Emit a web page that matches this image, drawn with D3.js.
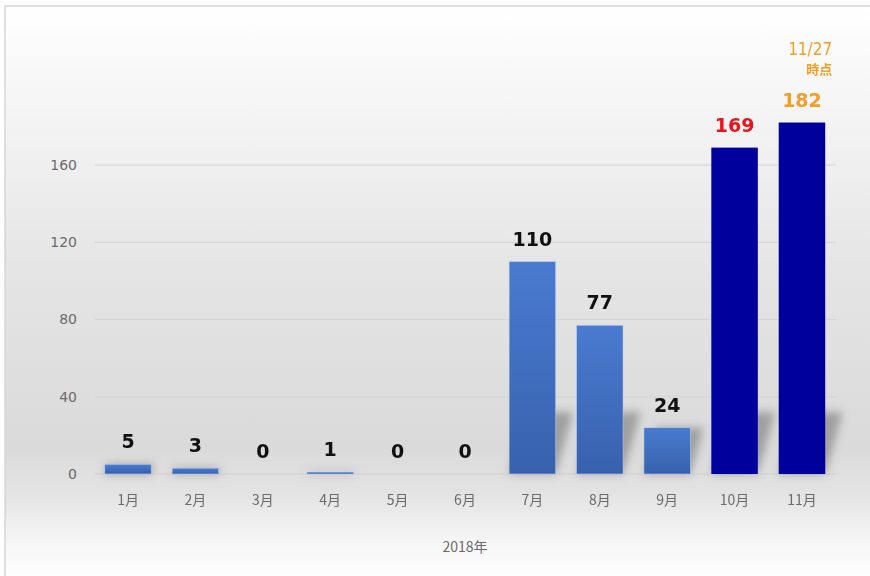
<!DOCTYPE html>
<html lang="ja">
<head>
  <meta charset="UTF-8">
  <title>2018年 月別件数</title>
  <script src="https://d3js.org/d3.v7.min.js"></script>
  <style>
    body { margin: 0; background: #fff; }
    svg { font-family: "Noto Sans CJK JP", "DejaVu Sans", sans-serif; display: block; }
  </style>
</head>
<body>
<svg id="chart" width="870" height="576"></svg>
<script>
// data
const months = ["1月", "2月", "3月", "4月", "5月", "6月", "7月", "8月", "9月", "10月", "11月"];
const counts = [5, 3, 0, 1, 0, 0, 110, 77, 24, 169, 182];
const yTicks = [0, 40, 80, 120, 160];
const highlight = ["10月", "11月"];
const labelColors = { "10月": "#e8141e", "11月": "#f0a02a" };

const svg = d3.select("#chart");
const defs = svg.append("defs");

const bg = defs.append("linearGradient").attr("id", "bg")
  .attr("x1", 0).attr("y1", 0).attr("x2", 0).attr("y2", 1);
[[0, "#ffffff"], [0.12, "#f8f8f8"], [0.45, "#e5e5e5"], [0.76, "#dadada"],
 [0.84, "#e3e3e3"], [0.93, "#f7f7f7"], [1, "#ffffff"]]
  .forEach(([o, c]) => bg.append("stop").attr("offset", o).attr("stop-color", c));

const barGrad = defs.append("linearGradient").attr("id", "barGrad")
  .attr("x1", 0).attr("y1", 0).attr("x2", 0).attr("y2", 1);
barGrad.append("stop").attr("offset", 0).attr("stop-color", "#4a7bd0");
barGrad.append("stop").attr("offset", 1).attr("stop-color", "#3761ad");

defs.append("filter").attr("id", "blur")
  .attr("x", "-50%").attr("y", "-50%").attr("width", "200%").attr("height", "200%")
  .append("feGaussianBlur").attr("stdDeviation", 4);

// background and frame (only top/left edge visible)
svg.append("rect").attr("x", 5).attr("y", 6).attr("width", 880).attr("height", 580)
  .attr("fill", "url(#bg)").attr("stroke", "#d6d6d6").attr("stroke-width", 1.5);

const x = d3.scaleBand().domain(months).range([94, 836]).paddingInner(0.31).paddingOuter(0.16);
const y = d3.scaleLinear().domain([0, 160]).range([474, 165]);

// gridlines + y labels
svg.append("g").selectAll("line").data(yTicks).join("line")
  .attr("x1", 95).attr("x2", 836)
  .attr("y1", d => y(d)).attr("y2", d => y(d))
  .attr("stroke", d => d === 0 ? "#cfcfcf" : "#d4d4d4").attr("stroke-width", 1);

const yAxis = svg.append("g").attr("transform", "translate(77,0)")
  .call(d3.axisLeft(y).tickValues(yTicks).tickSize(0).tickPadding(0));
yAxis.select(".domain").remove();
yAxis.selectAll("text").attr("fill", "#6b6b6b").style("font-size", "14px")
  .style("font-family", "'DejaVu Sans', sans-serif");

// shadows
svg.append("g").attr("filter", "url(#blur)").selectAll("polygon").data(months).join("polygon")
  .attr("points", (m, i) => {
    const x0 = x(m), x1 = x0 + x.bandwidth(), y0 = y(0);
    const h = Math.min(y(0) - y(counts[i]), 62), s = h * 0.28;
    return [[x0, y0], [x1, y0], [x1 + s, y0 - h], [x0 + s, y0 - h]].join(" ");
  })
  .attr("fill", "#6f6f6f").attr("opacity", 0.55);

// bars
svg.append("g").selectAll("rect").data(months).join("rect")
  .attr("x", m => x(m))
  .attr("width", x.bandwidth())
  .attr("y", (m, i) => y(counts[i]))
  .attr("height", (m, i) => y(0) - y(counts[i]))
  .attr("fill", m => highlight.includes(m) ? "#00009c" : "url(#barGrad)")
  .attr("stroke", m => highlight.includes(m) ? "none" : "#c9d8f2")
  .attr("stroke-opacity", 0.6).attr("stroke-width", 0.8);

// value labels
svg.append("g").selectAll("text").data(months).join("text")
  .attr("x", m => x(m) + x.bandwidth() / 2)
  .attr("y", (m, i) => y(counts[i]) - 16)
  .attr("text-anchor", "middle")
  .attr("fill", m => labelColors[m] || "#111")
  .style("font-family", "'DejaVu Sans', sans-serif")
  .style("font-weight", "bold").style("font-size", "19px")
  .text((m, i) => counts[i]);

// note above November
const nx = x("11月") + x.bandwidth() + 7;
svg.append("text").attr("x", nx).attr("y", 55).attr("text-anchor", "end")
  .attr("fill", "#f0a02a").style("font-size", "17px")
  .style("font-family", "'DejaVu Sans Condensed', 'DejaVu Sans', sans-serif").text("11/27");
svg.append("text").attr("x", nx).attr("y", 74).attr("text-anchor", "end")
  .attr("fill", "#f0a02a").style("font-size", "13px").style("font-weight", "bold").text("時点");

// x axis labels
const xAxis = svg.append("g").attr("transform", "translate(0,474)")
  .call(d3.axisBottom(x).tickSize(0).tickPadding(21));
xAxis.select(".domain").remove();
xAxis.selectAll("text").attr("fill", "#6b6b6b").style("font-size", "14px")
  .style("font-family", "'Noto Sans CJK JP', sans-serif");

svg.append("text").attr("x", 465).attr("y", 552).attr("text-anchor", "middle")
  .attr("fill", "#6b6b6b").style("font-size", "14px").text("2018年");
</script>
</body>
</html>
